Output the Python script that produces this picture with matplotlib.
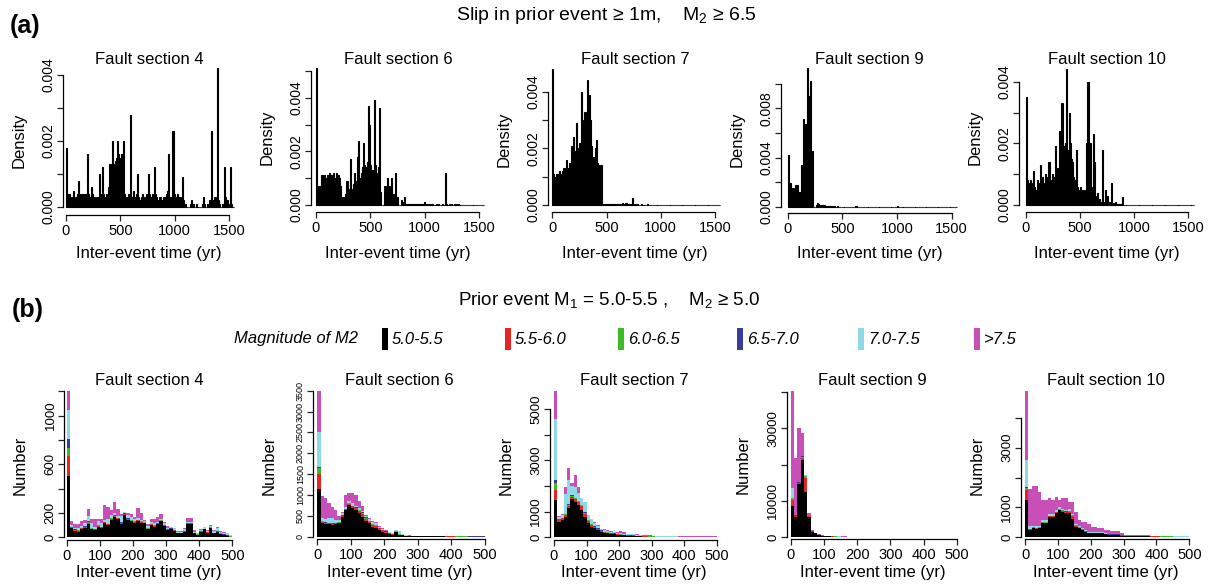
import matplotlib
matplotlib.use("Agg")
import matplotlib.pyplot as plt
from matplotlib.patches import Rectangle

plt.rcParams['font.family'] = ['Liberation Sans', 'DejaVu Sans']
plt.rcParams['mathtext.fontset'] = 'custom'
plt.rcParams['mathtext.rm'] = 'Liberation Sans'
plt.rcParams['mathtext.it'] = 'Liberation Sans:italic'

W, H = 1213, 586

#[data]
sections = ["Fault section 4", "Fault section 6", "Fault section 7", "Fault section 9", "Fault section 10"]

# (a) density histograms, 10 yr bins, values in units of 1e-4
bins_a = list(range(0, 1550, 10))
dens4 = [18, 4, 3, 4, 2, 3, 5, 3, 2, 3,
         4, 8, 4, 4, 3, 4, 3, 4, 4, 16,
         4, 3, 3, 6, 4, 2, 3, 2, 3, 3,
         10, 4, 3, 12, 4, 3, 2, 4, 3, 6,
         13, 9, 20, 13, 12, 14, 15, 20, 16, 15,
         14, 16, 20, 4, 3, 2, 3, 4, 2, 28,
         2, 3, 5, 3, 4, 10, 3, 2, 2, 3,
         4, 2, 3, 2, 4, 10, 4, 3, 2, 4,
         3, 12, 4, 3, 2, 2, 3, 2, 2, 3,
         2, 3, 4, 5, 16, 3, 2, 3, 23, 4,
         3, 2, 4, 2, 3, 3, 2, 9, 2, 1,
         0, 0, 0, 0, 1, 2, 1, 1, 0, 0,
         1, 0, 0, 0, 0, 1, 3, 1, 0, 0,
         1, 0, 2, 23, 2, 2, 3, 2, 3, 42,
         2, 1, 0, 0, 1, 12, 3, 2, 2, 1,
         0, 12, 1, 0, 0]
dens6 = [51, 7, 6, 7, 6, 11, 9, 11, 10, 9,
         11, 10, 12, 10, 11, 9, 12, 10, 12, 9,
         11, 10, 7, 2, 3, 2, 3, 4, 9, 6,
         4, 17, 6, 4, 8, 12, 9, 7, 18, 24,
         10, 12, 14, 23, 15, 12, 14, 16, 37, 30,
         15, 13, 12, 39, 15, 10, 12, 14, 36, 5,
         0, 0, 0, 7, 4, 10, 6, 7, 5, 10,
         4, 3, 4, 12, 3, 0, 0, 0, 2, 1,
         1, 3, 0.5, 0.3, 0.3, 0.3, 0.2, 0.3, 0.2, 0.3,
         0.2, 0.2, 0.2, 0.3, 0.2, 0.2, 0.2, 0.3, 0.2, 1.3,
         0.2, 0.2, 0, 0.2, 0.2, 0, 0.2, 0.2, 0, 0,
         0.2, 0, 0.2, 0, 0, 0, 0.2, 0, 0, 12,
         0.2, 0, 0.2, 0, 0.2, 0, 0, 0.2, 0, 0.2,
         0, 0.2, 0, 0, 0, 0, 0, 0, 0, 0,
         0, 0, 0, 0, 0, 0, 0, 0, 0, 0,
         0, 0, 0, 0, 0]
dens7 = [48, 11, 10, 11, 11, 10, 12, 11, 10, 12,
         13, 12, 13, 16, 13, 15, 14, 21, 18, 24,
         17, 19, 29, 20, 16, 22, 40, 30, 8, 33,
         25, 33, 44, 36, 39, 30, 21, 17, 14, 20,
         23, 15, 14, 14, 13, 14, 0.5, 0.4, 0.4, 0.3,
         0.3, 0.4, 0.3, 0.3, 0.4, 0.3, 0.5, 0.3, 0.4, 0.5,
         0.4, 0.3, 0.5, 0.4, 0.6, 0.4, 0.5, 0.6, 0.8, 0.4,
         0.3, 0.2, 0.3, 2.5, 0.3, 0.2, 0.2, 0.1, 0.2, 0.1,
         0.1, 0.1, 0.2, 0.1, 0.1, 0.1, 0.1, 0.2, 0.1, 0.1,
         0.1, 0, 0.1, 0.1, 0, 0.1, 0.1, 0, 0.1, 0,
         0.1, 0, 0.1, 0, 0.1, 0, 0, 0.1, 0, 0.1,
         0, 0.1, 0, 0, 0.1, 0, 0.1, 0, 0, 0.1,
         0, 0, 0.1, 0, 0, 0.1, 0, 0, 0.1, 0,
         0, 0.1, 0, 0, 0, 0.1, 0, 0, 0, 0.1,
         0, 0, 0, 0.1, 0, 0, 0, 0, 0.1, 0,
         0, 0, 0, 0, 0]
dens9 = [42, 12, 19, 12, 15, 15, 12, 18, 18, 12,
         12, 12, 34, 30, 71, 60, 67, 40, 113, 90,
         102, 45, 45, 0, 0, 0, 1, 3, 2, 1.5,
         1, 1.5, 1, 1, 0.5, 0.3, 0.5, 0.3, 0.2, 0.2,
         0.2, 0.1, 0.2, 0.1, 0.1, 0.2, 0.1, 0.1, 0.1, 0.1,
         0.1, 0.1, 0.1, 0.1, 0.1, 0.1, 0.1, 0.1, 0.1, 0.1,
         0.1, 0.1, 0.2, 0.1, 0.1, 0.1, 0.1, 0.1, 0.1, 0.1,
         0.1, 0.1, 0.1, 0.1, 0.1, 0.1, 0.1, 0.1, 0.1, 0.1,
         0.1, 0.1, 0.1, 0.1, 0.1, 0.1, 0.1, 0.1, 0.1, 0.1,
         0.1, 0.1, 0.1, 0.1, 0.1, 0.1, 0.1, 0.1, 0.1, 0.1,
         0.2, 0.1, 0.1, 0.1, 0.1, 0.1, 0.1, 0.1, 0.1, 0.1,
         0.1, 0.1, 0.1, 0.1, 0.1, 0.1, 0.1, 0.1, 0.1, 0.1,
         0.1, 0.1, 0.1, 0.1, 0.1, 0.1, 0.1, 0.1, 0.1, 0.1,
         0.1, 0.1, 0.1, 0.1, 0.1, 0.1, 0.1, 0.1, 0.1, 0.1,
         0.1, 0.1, 0.1, 0.1, 0.1, 0.1, 0.1, 0.1, 0.1, 0.1,
         0, 0, 0, 0, 0]
dens10 = [35, 8, 7, 6, 8, 5, 7, 11, 6, 5,
          8, 6, 7, 13, 8, 9, 7, 6, 10, 8,
          9, 14, 8, 7, 10, 9, 8, 19, 10, 12,
          11, 24, 15, 33, 19, 18, 20, 44, 18, 16,
          30, 20, 15, 14, 9, 8, 18, 6, 5, 4,
          6, 4, 5, 3, 5, 3, 20, 40, 4, 20,
          6, 4, 23, 14, 3, 2, 4, 1, 2, 1,
          18, 1, 0, 5, 1, 3, 0, 1, 0, 7,
          0.5, 0.3, 1, 0.3, 0.2, 0.2, 0.3, 0.2, 0.2, 2.5,
          0.1, 0.1, 0, 0.1, 0, 0.1, 0, 0, 0.1, 0,
          0.1, 0, 0.1, 0, 0, 0.1, 0, 0, 0.1, 0,
          0, 0.1, 0, 0.1, 0, 0, 0.1, 0, 0, 0,
          0.1, 0, 0, 0.1, 0, 0, 0, 0.1, 0, 0,
          0, 0.1, 0, 0, 0, 0.1, 0, 0, 0, 0,
          0, 0, 0.1, 0, 0, 0, 0, 0, 0, 0,
          0, 0, 0, 0, 0]
dens_all = [dens4, dens6, dens7, dens9, dens10]
ytick_a = [[0, 0.001, 0.002, 0.003, 0.004],
           [0, 0.001, 0.002, 0.003, 0.004, 0.005],
           [0, 0.001, 0.002, 0.003, 0.004],
           [0, 0.002, 0.004, 0.006, 0.008, 0.010],
           [0, 0.001, 0.002, 0.003, 0.004]]
ylab_a = [["0.000", "", "0.002", "", "0.004"],
          ["0.000", "", "0.002", "", "0.004", ""],
          ["0.000", "", "0.002", "", "0.004"],
          ["0.000", "", "0.004", "", "0.008", ""],
          ["0.000", "", "0.002", "", "0.004"]]

# (b) stacked counts by magnitude of M2, 10 yr bins
bins_b = list(range(0, 500, 10))
mag_labels = ["5.0-5.5", "5.5-6.0", "6.0-6.5", "6.5-7.0", "7.0-7.5", ">7.5"]
mag_colors = ["#000000", "#e3261f", "#3dbb22", "#383c9c", "#8fd8e6", "#c94fb8"]

k4 = [500, 75, 55, 47, 65, 75, 110, 65, 60, 88, 75, 115, 100, 142, 170, 148, 110, 183, 142, 130,
      120, 130, 120, 115, 65, 100, 88, 110, 130, 93, 60, 65, 55, 33, 33, 47, 110, 110, 33, 20,
      47, 65, 38, 75, 33, 47, 27, 20, 11, 5]
r4 = [170, 8, 6, 6, 8, 8, 10, 6, 6, 8, 8, 8, 8, 10, 10, 8, 8, 8, 8, 8,
      8, 10, 8, 6, 6, 6, 6, 6, 8, 6, 5, 5, 5, 3, 3, 5, 6, 6, 3, 3,
      4, 4, 3, 4, 3, 4, 3, 2, 2, 1]
g4 = [60, 3, 3, 3, 3, 4, 8, 3, 3, 3, 3, 3, 3, 4, 4, 3, 3, 3, 3, 3,
      3, 3, 3, 3, 3, 3, 3, 3, 3, 3, 2, 2, 2, 2, 2, 2, 3, 3, 2, 1,
      2, 2, 2, 2, 2, 2, 2, 1, 1, 1]
b4 = [75, 2, 2, 2, 2, 2, 3, 2, 2, 2, 2, 2, 2, 2, 2, 2, 2, 2, 2, 2,
      2, 2, 2, 2, 2, 2, 2, 2, 2, 2, 1, 1, 1, 1, 1, 1, 2, 2, 1, 1,
      1, 1, 1, 1, 1, 1, 1, 1, 1, 1]
c4 = [240, 12, 12, 15, 15, 28, 40, 42, 10, 30, 28, 15, 35, 28, 15, 14, 48, 15, 28, 27,
      15, 10, 10, 5, 15, 18, 15, 8, 10, 10, 10, 10, 10, 5, 5, 15, 8, 8, 5, 8,
      7, 10, 10, 10, 15, 20, 14, 14, 18, 12]
m4 = [155, 30, 30, 40, 37, 25, 60, 35, 68, 20, 35, 123, 102, 42, 88, 55, 20, 0, 14, 20,
      22, 84, 55, 12, 22, 25, 33, 38, 36, 13, 11, 5, 7, 8, 8, 7, 26, 26, 13, 5,
      5, 6, 5, 7, 5, 7, 5, 6, 5, 3]

k6 = [1135, 330, 310, 300, 290, 300, 320, 480, 640, 760, 700, 650, 560, 480, 380, 320, 230, 200, 160, 120,
      90, 70, 50, 110, 40, 30, 15, 15, 10, 10, 10, 8, 8, 6, 6, 5, 5, 5, 4, 4,
      4, 3, 3, 3, 3, 2, 2, 2, 2, 2]
r6 = [365, 30, 25, 20, 20, 20, 20, 20, 20, 30, 30, 40, 50, 60, 50, 40, 60, 60, 40, 30,
      20, 15, 10, 10, 10, 5, 5, 4, 3, 3, 3, 2, 2, 2, 2, 2, 2, 1, 1, 1,
      1, 1, 1, 1, 1, 1, 1, 1, 1, 1]
g6 = [150, 5, 5, 5, 5, 5, 5, 5, 5, 10, 10, 10, 30, 40, 30, 20, 20, 20, 10, 10,
      10, 5, 5, 5, 5, 5, 3, 2, 2, 2, 1, 1, 1, 1, 1, 1, 1, 1, 1, 1,
      1, 1, 1, 1, 1, 1, 1, 1, 1, 1]
b6 = [30, 5, 5, 10, 5, 5, 5, 5, 5, 5, 5, 5, 5, 5, 5, 5, 5, 5, 5, 5,
      5, 5, 5, 5, 5, 5, 2, 2, 1, 1, 1, 1, 1, 1, 1, 1, 1, 1, 1, 1,
      1, 1, 1, 1, 1, 1, 1, 1, 1, 1]
c6 = [840, 70, 80, 120, 120, 80, 60, 50, 50, 50, 60, 40, 40, 30, 30, 30, 30, 40, 20, 20,
      20, 15, 15, 20, 70, 20, 5, 5, 5, 5, 3, 3, 3, 3, 3, 3, 3, 3, 2, 2,
      2, 2, 2, 2, 2, 2, 2, 2, 2, 2]
m6 = [980, 530, 500, 350, 280, 230, 80, 40, 280, 185, 235, 255, 165, 115, 35, 25, 25, 20, 15, 15,
      15, 10, 10, 10, 10, 5, 5, 5, 3, 3, 3, 3, 5, 3, 3, 3, 3, 3, 3, 3,
      3, 3, 3, 5, 3, 3, 3, 3, 3, 3]

k7 = [1450, 610, 675, 800, 1130, 1490, 1390, 1260, 1065, 800, 545, 415, 350, 285, 220, 180, 155, 130, 120, 100,
      90, 80, 65, 55, 70, 40, 35, 30, 30, 25, 25, 20, 20, 20, 15, 15, 15, 15, 10, 10,
      10, 10, 10, 10, 8, 8, 8, 8, 8, 8]
r7 = [390, 90, 60, 70, 100, 90, 100, 110, 150, 120, 80, 70, 50, 40, 30, 30, 25, 20, 20, 20,
      15, 15, 10, 10, 10, 8, 8, 6, 6, 5, 5, 5, 5, 4, 4, 4, 3, 3, 3, 3,
      3, 3, 3, 3, 2, 2, 2, 2, 2, 2]
g7 = [290, 20, 20, 30, 40, 30, 30, 40, 40, 40, 30, 20, 20, 15, 10, 10, 10, 10, 5, 5,
      5, 5, 5, 5, 5, 4, 4, 3, 3, 3, 3, 3, 3, 2, 2, 2, 2, 2, 2, 2,
      2, 2, 2, 2, 2, 2, 2, 2, 2, 2]
b7 = [100, 10, 10, 10, 20, 20, 20, 20, 20, 20, 10, 10, 10, 10, 5, 5, 5, 5, 5, 5,
      5, 5, 5, 5, 5, 3, 3, 3, 3, 3, 2, 2, 2, 2, 2, 2, 2, 2, 2, 2,
      2, 2, 2, 2, 2, 2, 2, 2, 2, 2]
c7 = [2370, 70, 105, 790, 940, 370, 430, 280, 245, 410, 205, 185, 115, 90, 45, 60, 65, 55, 45, 50,
      40, 35, 45, 40, 35, 30, 25, 25, 20, 20, 20, 20, 15, 15, 15, 15, 15, 15, 10, 10,
      10, 10, 10, 10, 10, 10, 10, 10, 10, 10]
m7 = [1100, 20, 30, 270, 480, 100, 460, 260, 0, 0, 0, 30, 65, 40, 30, 25, 20, 20, 15, 20,
      85, 60, 10, 20, 15, 25, 15, 10, 10, 20, 10, 10, 10, 15, 10, 10, 10, 10, 10, 15,
      10, 10, 10, 10, 10, 10, 10, 10, 15, 10]

k9 = [8700, 5700, 14600, 21300, 12600, 5500, 1560, 1100, 640, 400, 300, 250, 220, 200, 180, 160, 150, 140, 130, 120,
      110, 100, 100, 90, 90, 80, 80, 70, 70, 60, 60, 60, 50, 50, 50, 50, 40, 40, 40, 40,
      40, 30, 30, 30, 30, 30, 30, 20, 20, 20]
r9 = [1600, 200, 300, 600, 3600, 500, 150, 50, 40, 30, 20, 20, 20, 15, 15, 15, 10, 10, 10, 10,
      10, 10, 10, 10, 10, 10, 5, 5, 5, 5, 5, 5, 5, 5, 5, 5, 5, 5, 5, 5,
      5, 5, 5, 5, 5, 5, 5, 5, 5, 5]
g9 = [400, 100, 100, 300, 600, 100, 50, 20, 20, 10, 10, 10, 10, 10, 10, 5, 5, 5, 5, 5,
      5, 5, 5, 5, 5, 5, 5, 5, 5, 5, 5, 5, 5, 5, 5, 5, 5, 5, 5, 5,
      5, 5, 5, 5, 5, 5, 5, 5, 5, 5]
b9 = [200, 50, 100, 100, 100, 50, 20, 10, 10, 5, 5, 5, 5, 5, 5, 5, 5, 5, 5, 5,
      5, 5, 5, 5, 5, 5, 5, 5, 5, 5, 5, 5, 5, 5, 5, 5, 5, 5, 5, 5,
      5, 5, 5, 5, 5, 5, 5, 5, 5, 5]
c9 = [2600, 200, 200, 200, 300, 100, 50, 30, 20, 20, 20, 20, 20, 20, 20, 20, 20, 20, 20, 20,
      20, 20, 20, 20, 20, 10, 10, 10, 10, 10, 10, 10, 10, 10, 10, 10, 10, 10, 10, 10,
      10, 10, 10, 10, 10, 10, 10, 10, 10, 10]
m9 = [26800, 15450, 14700, 6100, 0, 500, 170, 90, 70, 35, 50, 60, 60, 60, 60, 60, 40, 40, 40, 40,
      40, 40, 30, 30, 20, 20, 20, 20, 20, 20, 20, 20, 20, 20, 20, 20, 20, 20, 20, 20,
      20, 20, 20, 20, 20, 20, 20, 20, 20, 20]

k10 = [1245, 245, 300, 290, 300, 470, 470, 690, 690, 820, 910, 855, 800, 800, 600, 355, 300, 245, 190, 135,
       135, 135, 135, 135, 100, 80, 80, 80, 80, 60, 45, 40, 40, 35, 35, 30, 30, 30, 25, 25,
       25, 20, 20, 20, 20, 15, 15, 15, 15, 15]
r10 = [335, 20, 20, 20, 20, 20, 20, 20, 20, 20, 20, 30, 40, 60, 100, 40, 20, 20, 15, 15,
       10, 10, 10, 10, 10, 5, 5, 5, 5, 5, 5, 5, 5, 5, 5, 5, 5, 5, 5, 5,
       5, 5, 5, 5, 5, 5, 5, 5, 5, 5]
g10 = [80, 10, 10, 10, 10, 10, 10, 10, 10, 10, 10, 20, 20, 30, 40, 20, 10, 10, 5, 5,
       5, 5, 5, 5, 5, 5, 5, 5, 5, 5, 2, 2, 2, 2, 2, 2, 2, 2, 2, 2,
       2, 2, 2, 2, 2, 2, 2, 2, 2, 2]
b10 = [30, 5, 5, 5, 5, 5, 5, 5, 5, 5, 5, 5, 5, 5, 5, 5, 5, 5, 5, 5,
       5, 5, 5, 5, 5, 5, 5, 5, 5, 5, 2, 2, 2, 2, 2, 2, 2, 2, 2, 2,
       2, 2, 2, 2, 2, 2, 2, 2, 2, 2]
c10 = [900, 110, 60, 60, 60, 80, 80, 60, 60, 60, 60, 50, 50, 40, 40, 30, 30, 30, 20, 20,
       20, 20, 20, 20, 20, 15, 15, 10, 10, 10, 5, 5, 5, 5, 5, 5, 5, 5, 5, 5,
       5, 5, 5, 5, 5, 5, 5, 5, 5, 5]
m10 = [2300, 1240, 1325, 1335, 1125, 660, 660, 515, 475, 440, 240, 340, 385, 255, 405, 405, 215, 210, 285, 250,
       180, 180, 125, 125, 105, 135, 110, 115, 95, 65, 21, 20, 20, 25, 20, 20, 20, 20, 15, 15,
       15, 15, 15, 10, 10, 10, 10, 10, 10, 10]

counts_all = [[k4, r4, g4, b4, c4, m4],
              [k6, r6, g6, b6, c6, m6],
              [k7, r7, g7, b7, c7, m7],
              [k9, r9, g9, b9, c9, m9],
              [k10, r10, g10, b10, c10, m10]]
ytick_b = [[0, 200, 400, 600, 800, 1000, 1200],
           [0, 500, 1000, 1500, 2000, 2500, 3000, 3500],
           [0, 1000, 2000, 3000, 4000, 5000],
           [0, 10000, 20000, 30000, 40000],
           [0, 1000, 2000, 3000, 4000]]
ylab_b = [["0", "200", "", "600", "", "1000", ""],
          ["0", "500", "1000", "1500", "2000", "2500", "3000", "3500"],
          ["0", "1000", "", "3000", "", "5000"],
          ["0", "10000", "", "30000", ""],
          ["0", "1000", "", "3000", ""]]

#[layout] pixel calibration: y-axis line, x-axis line, x of 0, px per x unit, y of 0, px per y unit
cal_a = [(63, 215, 66, 0.10867, 207, 33000),
         (310.7, 211.7, 316, 0.10867, 205, 26833),
         (548.3, 211.7, 552.3, 0.1085, 205, 28333),
         (781, 212.7, 787.7, 0.1093, 206.7, 12300),
         (1019.3, 211.7, 1025.7, 0.1084, 205, 30833)]
ymax_a = [0.0043, 0.0053, 0.0049, 0.0115, 0.0046]
cal_b = [(64.3, 540, 66.7, 0.3313, 537.3, 0.1217),
         (312.7, 539.3, 317.3, 0.3353, 536.7, 0.0417),
         (550, 540, 554, 0.3253, 537.3, 0.02567),
         (786.7, 539.3, 790.7, 0.332, 537.3, 0.003633),
         (1020.7, 539.3, 1025, 0.3287, 537.3, 0.02987)]
ymax_b = [1210, 3510, 5750, 40500, 4900]
yfs_b = [9.5, 6.5, 9.5, 9.5, 9.5]

fig = plt.figure(figsize=(W / 100, H / 100), dpi=100)
FS = 12


def r_axes(cal, xmax, ymax, xticks, yticks, ylabels, ylab, title, title_base, xlab_base, yfs):
    """R風の軸を作る"""
    left, base, x0, xs, y0, ys = cal
    top = y0 - ymax * ys
    right = x0 + xmax * xs
    ax = fig.add_axes([left / W, 1 - base / H, (right - left) / W, (base - top) / H])
    ax.set_xlim((left - x0) / xs, xmax)
    ax.set_ylim(-(base - y0) / ys, ymax)
    ax.spines['top'].set_visible(False)
    ax.spines['right'].set_visible(False)
    ax.spines['left'].set_bounds(yticks[0], yticks[-1])
    ax.spines['bottom'].set_bounds(xticks[0], xticks[-1])
    for s in ['left', 'bottom']:
        ax.spines[s].set_linewidth(0.9)
    ax.set_xticks(xticks)
    ax.set_xticklabels([str(t) for t in xticks], fontsize=10.5)
    ax.set_yticks(yticks)
    ax.set_yticklabels(ylabels, rotation=90, va='center', fontsize=yfs)
    ax.tick_params(axis='both', length=4.5, width=0.9, color='#222222')
    ax.tick_params(axis='x', pad=2)
    ax.tick_params(axis='y', pad=1)
    ax.patch.set_alpha(0)
    cx = (left + right) / 2
    fig.text(cx / W, 1 - title_base / H, title, ha='center', va='baseline', fontsize=FS)
    fig.text(cx / W, 1 - xlab_base / H, "Inter-event time (yr)", ha='center', va='baseline', fontsize=FS)
    fig.text((left - 44) / W, 1 - (base + top) / 2 / H, ylab, ha='center', va='center',
             rotation=90, fontsize=FS)
    return ax


# (a)
for i in range(5):
    ax = r_axes(cal_a[i], 1560, ymax_a[i], [0, 500, 1000, 1500], ytick_a[i], ylab_a[i],
                "Density", sections[i], 63.5, 258, 10)
    ax.bar(bins_a, [d * 1e-4 for d in dens_all[i]], width=10, align='edge',
           color='black', edgecolor='black', linewidth=0.8)

# (b)
for i in range(5):
    ax = r_axes(cal_b[i], 505, ymax_b[i], [0, 100, 200, 300, 400, 500], ytick_b[i], ylab_b[i],
                "Number", sections[i], 385, 577, yfs_b[i])
    bottom = [0] * len(bins_b)
    for vals, col in zip(counts_all[i], mag_colors):
        ax.bar(bins_b, vals, width=10, bottom=bottom, align='edge', color=col, linewidth=0)
        bottom = [b + v for b, v in zip(bottom, vals)]

# titles
fig.text(10 / W, 1 - 26 / H, "(a)", fontsize=18, fontweight='bold', va='center')
fig.text(606 / W, 1 - 15 / H, "Slip in prior event \u2265 1m,    M$_2$ \u2265 6.5",
         ha='center', va='center', fontsize=14)
fig.text(12 / W, 1 - 310 / H, "(b)", fontsize=18, fontweight='bold', va='center')
fig.text(609 / W, 1 - 300 / H, "Prior event M$_1$ = 5.0-5.5 ,    M$_2$ \u2265 5.0",
         ha='center', va='center', fontsize=13.5)

# legend
fig.text(358 / W, 1 - 339 / H, "Magnitude of M2", ha='right', va='center', fontsize=FS, style='italic')
leg_x = [382, 505, 618, 737, 858, 974]
for x, lab, col in zip(leg_x, mag_labels, mag_colors):
    fig.add_artist(Rectangle((x / W, 1 - 350 / H), 6 / W, 22 / H, transform=fig.transFigure,
                             facecolor=col, edgecolor='none'))
    fig.text((x + 10) / W, 1 - 339 / H, lab, ha='left', va='center', fontsize=FS, style='italic')

fig.savefig("out.png", dpi=100)
